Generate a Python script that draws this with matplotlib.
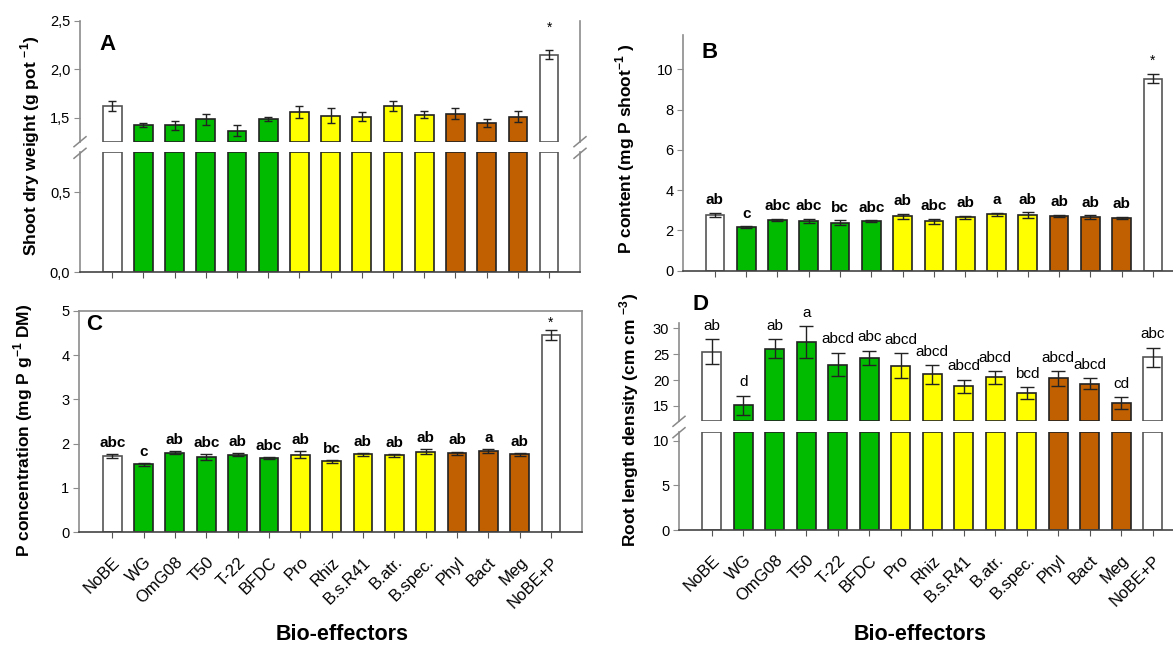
import matplotlib
matplotlib.use("Agg")
import matplotlib.pyplot as plt
from matplotlib.lines import Line2D
from matplotlib.ticker import FuncFormatter
import numpy as np

# Daten
groups = ['NoBE', 'WG', 'OmG08', 'T50', 'T-22', 'BFDC', 'Pro', 'Rhiz', 'B.s.R41',
          'B.atr.', 'B.spec.', 'Phyl', 'Bact', 'Meg', 'NoBE+P']
group_type = ['ctrl', 'fungi', 'fungi', 'fungi', 'fungi', 'fungi', 'bac', 'bac', 'bac',
              'bac', 'bac', 'mix', 'mix', 'mix', 'ctrl']

shoot_dw = [1.62, 1.42, 1.42, 1.48, 1.365, 1.485, 1.56, 1.52, 1.51, 1.62, 1.53, 1.54, 1.445, 1.51, 2.15]
shoot_dw_se = [0.05, 0.02, 0.045, 0.06, 0.06, 0.02, 0.06, 0.075, 0.05, 0.055, 0.035, 0.055, 0.04, 0.06, 0.05]
shoot_dw_letters = ['', '', '', '', '', '', '', '', '', '', '', '', '', '', '*']

p_content = [2.78, 2.15, 2.53, 2.48, 2.38, 2.47, 2.70, 2.45, 2.65, 2.80, 2.75, 2.73, 2.65, 2.63, 9.52]
p_content_se = [0.1, 0.05, 0.05, 0.1, 0.12, 0.03, 0.12, 0.12, 0.08, 0.08, 0.15, 0.04, 0.1, 0.05, 0.22]
p_content_letters = ['ab', 'c', 'abc', 'abc', 'bc', 'abc', 'ab', 'abc', 'ab', 'a', 'ab', 'ab', 'ab', 'ab', '*']

p_conc = [1.72, 1.53, 1.80, 1.70, 1.75, 1.67, 1.75, 1.60, 1.76, 1.74, 1.82, 1.78, 1.83, 1.76, 4.45]
p_conc_se = [0.04, 0.03, 0.03, 0.06, 0.03, 0.02, 0.08, 0.03, 0.03, 0.03, 0.05, 0.04, 0.04, 0.03, 0.12]
p_conc_letters = ['abc', 'c', 'ab', 'abc', 'ab', 'abc', 'ab', 'bc', 'ab', 'ab', 'ab', 'ab', 'a', 'ab', '*']

rld = [25.5, 15.1, 26.1, 27.3, 23.0, 24.3, 22.8, 21.1, 18.8, 20.5, 17.5, 20.3, 19.3, 15.5, 24.4]
rld_se = [2.4, 1.9, 1.9, 3.1, 2.3, 1.4, 2.4, 1.8, 1.3, 1.3, 1.1, 1.5, 1.0, 1.15, 1.9]
rld_letters = ['ab', 'd', 'ab', 'a', 'abcd', 'abc', 'abcd', 'abcd', 'abcd', 'abcd', 'bcd', 'abcd', 'abcd', 'cd', 'abc']

type_colors = {'ctrl': 'white', 'fungi': '#00bb00', 'bac': '#ffff00', 'mix': '#c06000'}
colors = [type_colors[t] for t in group_type]

plt.rcParams['font.family'] = ['Liberation Sans', 'DejaVu Sans']
plt.rcParams['mathtext.fontset'] = 'custom'
plt.rcParams['mathtext.rm'] = 'Liberation Sans'
plt.rcParams['mathtext.bf'] = 'Liberation Sans:bold'

W, H = 1173, 646
fig = plt.figure(figsize=(W / 100, H / 100), dpi=100)
x = np.arange(len(groups))
BW = 0.6


def px_axes(x0, y0, x1, y1):
    return fig.add_axes([x0 / W, 1 - y1 / H, (x1 - x0) / W, (y1 - y0) / H])


def style(ax, right=False, top=False, bottom=True):
    for s in ['left', 'right', 'top']:
        ax.spines[s].set_color('#8c8c8c')
        ax.spines[s].set_linewidth(1.2)
    ax.spines['bottom'].set_color('#444444')
    ax.spines['bottom'].set_linewidth(1.2)
    ax.spines['right'].set_visible(right)
    ax.spines['top'].set_visible(top)
    ax.spines['bottom'].set_visible(bottom)
    ax.tick_params(axis='y', direction='out', length=4, color='#8c8c8c', labelsize=10.5, pad=3)
    ax.tick_params(axis='x', direction='out', length=4, color='#555555')
    ax.set_facecolor('none')


def bars(ax, vals, err, lo=None, hi=None, capsize=4):
    v = np.array(vals)
    bottom = 0 if lo is None else lo
    top = v if hi is None else np.minimum(v, hi)
    edge = ['#555555' if c == 'white' else '#222222' for c in colors]
    ax.bar(x, top - bottom, bottom=bottom, width=BW, color=colors, edgecolor=edge, linewidth=1.2, zorder=2)
    if hi is None:
        ax.errorbar(x, v, yerr=err, fmt='none', ecolor='#222222', elinewidth=1, capsize=capsize,
                    capthick=1, zorder=3)


def letters(ax, vals, err, labs, off, star_off, weight='bold', size=11):
    for i, t in enumerate(labs):
        if not t:
            continue
        if t == '*':
            ax.annotate(t, (x[i], vals[i] + err[i]), xytext=(0, star_off), textcoords='offset points',
                        ha='center', va='bottom', fontsize=10, annotation_clip=False)
        else:
            ax.annotate(t, (x[i], vals[i] + err[i]), xytext=(0, off), textcoords='offset points',
                        ha='center', va='bottom', fontsize=size, fontweight=weight, annotation_clip=False)


def brk(xp, yp):
    fig.add_artist(Line2D([(xp - 6) / W, (xp + 6) / W], [1 - (yp + 5) / H, 1 - (yp - 5) / H],
                          transform=fig.transFigure, color='#888888', lw=1.1))


comma = FuncFormatter(lambda v, p: ('%.1f' % v).replace('.', ','))

# A: Sprossgewicht (gebrochene Achse)
a_top = px_axes(80, 20.7, 580, 141.7)
a_bot = px_axes(80, 152.3, 580, 272.3)
for ax in (a_top, a_bot):
    ax.set_xlim(-1.03, 14.99)
style(a_top, right=True, bottom=False)
style(a_bot, right=True)
bars(a_top, shoot_dw, shoot_dw_se, lo=1.25, capsize=3)
bars(a_bot, shoot_dw, shoot_dw_se, hi=0.75)
a_top.set_ylim(1.25, 2.5)
a_bot.set_ylim(0, 0.75)
a_top.set_yticks([1.5, 2.0, 2.5])
a_bot.set_yticks([0.0, 0.5])
a_top.yaxis.set_major_formatter(comma)
a_bot.yaxis.set_major_formatter(comma)
a_top.set_xticks([])
a_bot.set_xticks(x)
a_bot.set_xticklabels([])
letters(a_top, shoot_dw, shoot_dw_se, shoot_dw_letters, 4, 11)
for xp in (80, 580):
    brk(xp, 141.7)
    brk(xp, 153.3)
a_top.text(0.055, 0.80, 'A', transform=a_top.transAxes, fontsize=16, fontweight='bold', ha='center', va='center')

# B: P-Gehalt
b = px_axes(683, 35, 1173, 270.7)
style(b)
b.set_xlim(-1.02, 14.64)
bars(b, p_content, p_content_se, capsize=4.5)
b.set_ylim(0, 11.7)
b.set_yticks([0, 2, 4, 6, 8, 10])
b.set_xticks(x)
b.set_xticklabels([])
letters(b, p_content, p_content_se, p_content_letters, 4, 5)
fig.text(710 / W, 1 - 53 / H, 'B', fontsize=16, fontweight='bold', ha='center', va='center')

# C: P-Konzentration
c = px_axes(79, 310.7, 582, 532.3)
style(c, right=True, top=True)
c.set_xlim(-1.06, 14.99)
bars(c, p_conc, p_conc_se, capsize=4.5)
c.set_ylim(0, 5)
c.set_yticks([0, 1, 2, 3, 4, 5])
c.set_xticks(x)
c.set_xticklabels(groups, rotation=45, ha='right', rotation_mode='anchor', fontsize=12)
c.tick_params(axis='x', pad=12)
letters(c, p_conc, p_conc_se, p_conc_letters, 3, 0)
fig.text(94 / W, 1 - 324 / H, 'C', fontsize=16, fontweight='bold', ha='center', va='center')

# D: Wurzellaengendichte (gebrochene Achse)
d_top = px_axes(679, 323.3, 1173, 421.3)
d_bot = px_axes(679, 431.7, 1173, 530.3)
for ax in (d_top, d_bot):
    ax.set_xlim(-1.04, 14.64)
style(d_top, bottom=False)
style(d_bot)
bars(d_top, rld, rld_se, lo=12, capsize=5)
bars(d_bot, rld, rld_se, hi=11)
d_top.set_ylim(12, 31)
d_bot.set_ylim(0, 11)
d_top.set_yticks([15, 20, 25, 30])
d_bot.set_yticks([0, 5, 10])
d_top.set_xticks([])
d_bot.set_xticks(x)
d_bot.set_xticklabels(groups, rotation=45, ha='right', rotation_mode='anchor', fontsize=12)
d_bot.tick_params(axis='x', pad=12)
letters(d_top, rld, rld_se, rld_letters, 4.5, 4, weight='normal')
brk(679, 421.3)
brk(679, 432.7)
fig.text(700 / W, 1 - 305 / H, 'D', fontsize=16, fontweight='bold', ha='center', va='center')

# Achsentitel
lab = dict(rotation=90, ha='center', va='center', fontsize=12.5, fontweight='bold')
fig.text(30 / W, 1 - 146 / H, r'Shoot dry weight (g pot $^{\mathbf{-1}}$)', **lab)
fig.text(625 / W, 1 - 149 / H, r'P content (mg P shoot$^{\mathbf{-1}}$ )', **lab)
fig.text(23 / W, 1 - 430 / H, r'P concentration (mg P g$^{\mathbf{-1}}$ DM)', **lab)
fig.text(629 / W, 1 - 420 / H, r'Root length density (cm cm $^{\mathbf{-3}}$)', **lab)
fig.text(342 / W, 1 - 634 / H, 'Bio-effectors', fontsize=15.5, fontweight='bold', ha='center', va='center')
fig.text(920 / W, 1 - 634 / H, 'Bio-effectors', fontsize=15.5, fontweight='bold', ha='center', va='center')

fig.savefig('out.png', dpi=100, facecolor='white')
